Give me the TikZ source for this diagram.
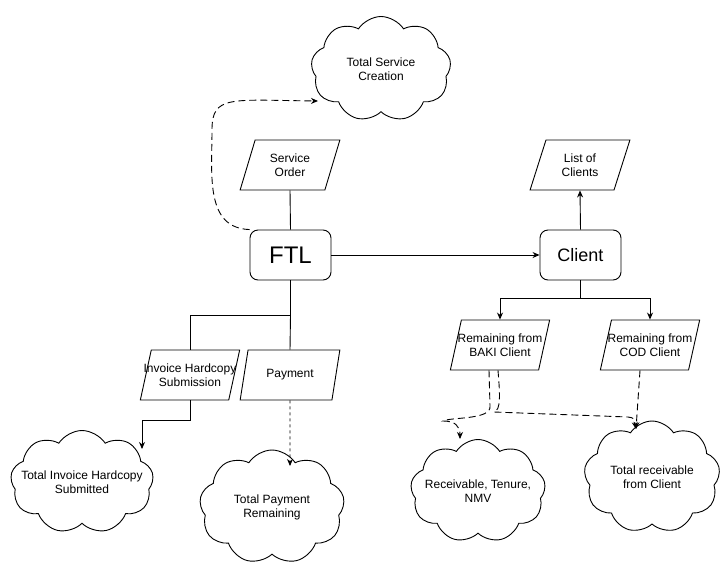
\documentclass[tikz,border=0pt]{standalone}
\usepackage{fontspec}
\setmainfont{Liberation Sans}
\usetikzlibrary{arrows.meta, shapes.geometric, shapes.symbols, positioning}

\begin{document}
\begin{tikzpicture}[
    x=1pt, y=-1pt, line width=0.9pt,
    every node/.style={font=\fontsize{12}{14}\selectfont, align=center},
    myarrow/.style={-{Stealth[length=7pt, width=6pt]}},
    dasharrow/.style={myarrow, dash pattern=on 7pt off 4pt},
    dotarrow/.style={myarrow, dash pattern=on 3pt off 3pt},
    procbox/.style={rectangle, draw, rounded corners=8pt, minimum width=81pt, minimum height=50pt},
    iobox/.style={trapezium, draw, trapezium left angle=70, trapezium right angle=110,
        trapezium stretches=true, minimum width=100pt, minimum height=50pt, inner sep=1pt},
    cloudbox/.style={cloud, draw, cloud puffs=9, cloud puff arc=115, inner sep=0pt}
]
\useasboundingbox (0,0) rectangle (726,571);

% Main blocks
\node[procbox, font=\fontsize{24}{28}\selectfont] (ftl) at (290.5,255) {FTL};
\node[procbox, font=\fontsize{18}{22}\selectfont] (client) at (580.5,255) {Client};

% Input / output blocks
\node[iobox] (svcorder) at (290,165) {Service\\Order};
\node[iobox] (clientlist) at (580,165) {List of\\Clients};
\node[iobox] (invoice) at (190,375) {\makebox[0pt]{Invoice Hardcopy}\\Submission};
\node[iobox] (payment) at (290,375) {Payment};
\node[iobox] (baki) at (500,345) {\makebox[0pt]{Remaining from}\\BAKI Client};
\node[iobox] (cod) at (650,345) {\makebox[0pt]{Remaining from}\\COD Client};

% Clouds
\node[cloudbox, minimum width=140pt, minimum height=105pt] (tsc) at (381,69) {\makebox[0pt]{Total Service}\\Creation};
\node[cloudbox, minimum width=143pt, minimum height=103pt] (tih) at (82,482) {\makebox[0pt]{Total Invoice Hardcopy}\\Submitted};
\node[cloudbox, minimum width=145pt, minimum height=114pt] (tpr) at (272,507) {\makebox[0pt]{Total Payment}\\\makebox[0pt]{Remaining}};
\node[cloudbox, minimum width=135pt, minimum height=103pt] (rtn) at (478,491) {\makebox[0pt]{Receivable, Tenure,}\\NMV};
\node[cloudbox, minimum width=136pt, minimum height=112pt] (trc) at (652,477) {\makebox[0pt]{Total receivable}\\\makebox[0pt]{from Client}};

% Junctions and free ends
\coordinate (ffork) at (290.5,315);
\coordinate (cfork) at (580.5,298);
\coordinate (ibend) at (142,420);
\coordinate (tihin) at (142,449);
\coordinate (tprin) at (290,466);
\coordinate (tscin) at (318,101);
\coordinate (rtnin) at (460,439);
\coordinate (trcin) at (636,429);

% Solid connectors
\draw (svcorder.south) -- (ftl.north);
\draw[myarrow] (ftl.east) -- (client.west);
\draw[myarrow] (client.north) -- (clientlist.south);
\draw (client.south) -- (cfork);
\draw[myarrow] (cfork) -| (baki.north);
\draw[myarrow] (cfork) -| (cod.north);
\draw (ftl.south) -- (ffork);
\draw (ffork) -| (invoice.north);
\draw (ffork) -- (payment.north);
\draw[myarrow] (invoice.south) |- (ibend) -- (tihin);

% Dashed connectors
\draw[dasharrow] (ftl.north west) .. controls (205,228) and (212,175) .. (212,130)
    .. controls (212,95) and (230,100) .. (tscin);
\draw[dotarrow] (payment.south) -- (tprin);
\draw[dasharrow] ([xshift=-11pt]baki.south) -- (490,406) .. controls (492,420) and (450,417) .. (443,421)
    .. controls (455,421) and (460,426) .. (rtnin);
\draw[dasharrow] ([xshift=-2pt]baki.south) .. controls (500,395) and (501,410) .. (494,412)
    -- (628,417) .. controls (634,418) .. (trcin);
\draw[dasharrow] ([xshift=-10pt]cod.south) -- (trcin);
\end{tikzpicture}
\end{document}
